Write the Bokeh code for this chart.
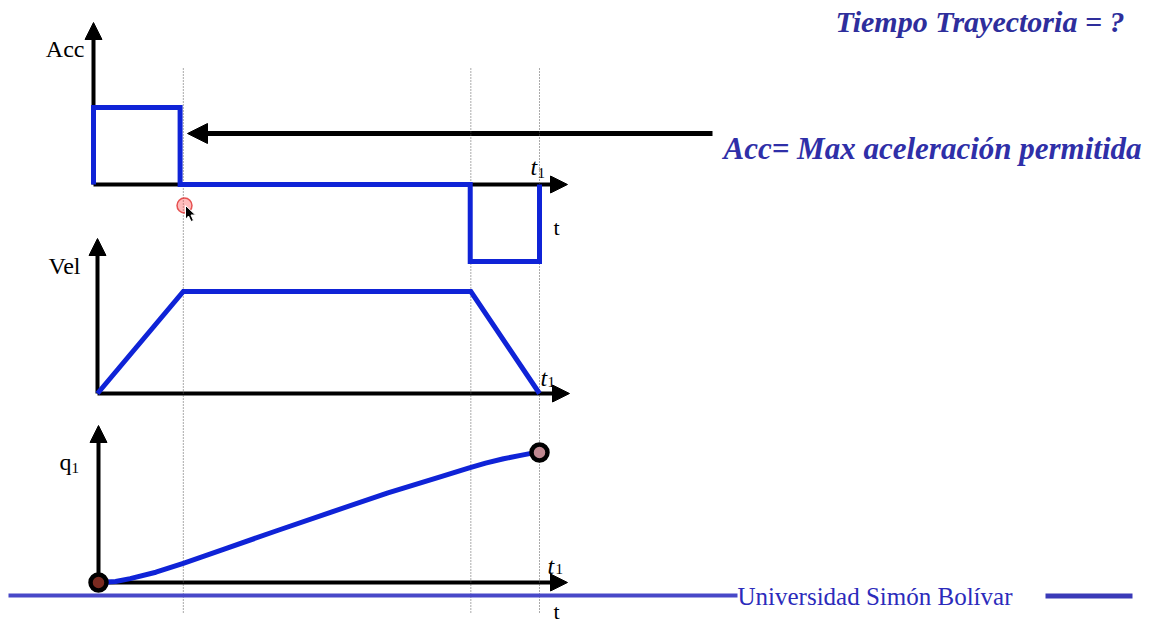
from bokeh.plotting import figure
from bokeh.models import Range1d, Arrow, NormalHead
from bokeh.core.properties import value
from bokeh.embed import file_html
from bokeh.resources import INLINE

# ---------------- data ----------------
phase_times = [0.0, 1.0, 4.35, 5.15]          # 0, end of acceleration, start of deceleration, t1
acc_t = [0.0, 0.0, 1.0, 1.0, 4.35, 4.35, 5.15, 5.15]
acc_v = [0, 1, 1, 0, 0, -1, -1, 0]
vel_t = [0.0, 1.0, 4.35, 5.15]
vel_v = [0, 1, 1, 0]
q_t = [0.0, 0.2, 0.37, 0.67, 0.99, 1.46, 2.09, 2.71, 3.38, 4.0, 4.32, 4.52, 4.73, 4.93, 5.05, 5.15]
q_v = [0.0, 0.008, 0.03, 0.079, 0.148, 0.255, 0.40, 0.54, 0.69, 0.815, 0.88, 0.918, 0.952, 0.978, 0.993, 1.0]
q_marks_t = [0.0, 5.15]
q_marks_v = [0.0, 1.0]

title_text = "Tiempo Trayectoria = ?"
note_text = "Acc= Max aceleración permitida"
footer_text = "Universidad  Simón  Bolívar"
y_labels = ["Acc", "Vel", "q"]
sub_label = "1"
t_label = "t"

BLUE = "#0f23d7"
SERIF = value("Liberation Serif")

W, H = 1160, 624
X0, Y0 = 0, 0

p = figure(width=W, height=H,
           x_range=Range1d(X0, X0 + W), y_range=Range1d(Y0 + H, Y0),
           x_axis_type=None, y_axis_type=None,
           toolbar_location=None, output_backend="svg",
           min_border=0, outline_line_color=None)
p.background_fill_color = "white"
p.border_fill_color = "white"


def t_range(origin_px, t1_px):
    s = (t1_px - origin_px) / phase_times[-1]
    return Range1d((X0 - origin_px) / s, (X0 + W - origin_px) / s)


def v_range(zero_px, unit_px):
    return Range1d((zero_px - (Y0 + H)) / unit_px, (zero_px - Y0) / unit_px)


p.extra_x_ranges = {"t_acc": t_range(93, 539), "t_vel": t_range(97, 539), "t_q": t_range(98, 539)}
p.extra_y_ranges = {"acc": v_range(184, 77), "vel": v_range(393, 102), "q": v_range(582, 130)}

# dotted guides at phase boundaries
n = len(phase_times) - 1
p.segment(x0=phase_times[1:], x1=phase_times[1:], y0=[68] * n, y1=[613] * n,
          x_range_name="t_vel", line_color="#555555", line_width=1, line_dash="1 2")

# axes (arrows)
def add_arrow(xs, ys, xe, ye, lw=4, size=17):
    a = Arrow(x_start=xs, y_start=ys, x_end=xe, y_end=ye, line_width=lw, line_color="black",
              end=NormalHead(size=size, fill_color="black", line_color="black", line_width=1))
    a.level = "underlay"
    p.add_layout(a)

add_arrow(93, 184, 93, 22)
add_arrow(93, 184, 567, 184)
add_arrow(97, 393, 97, 238)
add_arrow(97, 393, 569, 393)
add_arrow(98, 582, 98, 425)
add_arrow(98, 582, 567, 582)
add_arrow(712, 133, 187, 133, lw=5, size=20)

# bottom decorative lines
p.line(x=[8, 737], y=[595, 595], line_color="#4848c8", line_width=4)
p.line(x=[1045, 1132], y=[595.5, 595.5], line_color="#3a3ab8", line_width=5)

# data curves
p.line(acc_t, acc_v, x_range_name="t_acc", y_range_name="acc",
       line_color=BLUE, line_width=5, line_join="miter")
p.line(vel_t, vel_v, x_range_name="t_vel", y_range_name="vel",
       line_color=BLUE, line_width=5, line_join="miter")
p.line(q_t, q_v, x_range_name="t_q", y_range_name="q",
       line_color=BLUE, line_width=5, line_join="round", line_cap="round")
p.scatter(q_marks_t, q_marks_v, x_range_name="t_q", y_range_name="q", size=16,
          fill_color=["#7a2a20", "#c08890"], line_color="black", line_width=4.5)

# cursor highlight and pointer
p.scatter(x=[184], y=[205], size=15, fill_color="#ff4040", fill_alpha=0.35,
          line_color="#e03030", line_width=1.5, line_alpha=0.8)
cx = [185, 185, 188, 190.5, 193, 190.5, 195]
cy = [205, 219, 215.5, 221, 220, 214.5, 214.5]
p.patch(cx, cy, fill_color="black", line_color="white", line_width=1)

# texts
p.text(x=[835], y=[21], text=[title_text], text_font=SERIF, text_font_style="bold italic",
       text_font_size="30px", text_color="#2e2e9c", text_baseline="alphabetic")
p.text(x=[723], y=[148], text=[note_text], text_font=SERIF, text_font_style="bold italic",
       text_font_size="31px", text_color="#2f2fa8", text_baseline="alphabetic")
p.text(x=[737], y=[596], text=[footer_text], text_font=SERIF, text_font_style="normal",
       text_font_size="25px", text_color="#2b2bbb", text_baseline="alphabetic")

p.text(x=[84, 80, 59], y=[48, 265, 461], text=y_labels, text_font=SERIF,
       text_font_size="24px", text_color="black", text_baseline="alphabetic",
       text_align=["right", "right", "left"])
p.text(x=[71], y=[467], text=[sub_label], text_font=SERIF, text_font_size="15px",
       text_color="black", text_baseline="alphabetic")

# t1 labels
p.text(x=[530, 540, 547], y=[166, 377, 565], text=[t_label] * 3, text_font=SERIF,
       text_font_style="italic", text_font_size="24px", text_color="black",
       text_baseline="alphabetic")
p.text(x=[537, 547, 555], y=[172, 381, 568], text=[sub_label] * 3, text_font=SERIF,
       text_font_size="15px", text_color="black", text_baseline="alphabetic")
# t labels
p.text(x=[553, 553], y=[227, 611], text=[t_label] * 2, text_font=SERIF,
       text_font_size="22px", text_color="black", text_baseline="alphabetic")

open("out.html", "w").write(file_html(p, INLINE))
